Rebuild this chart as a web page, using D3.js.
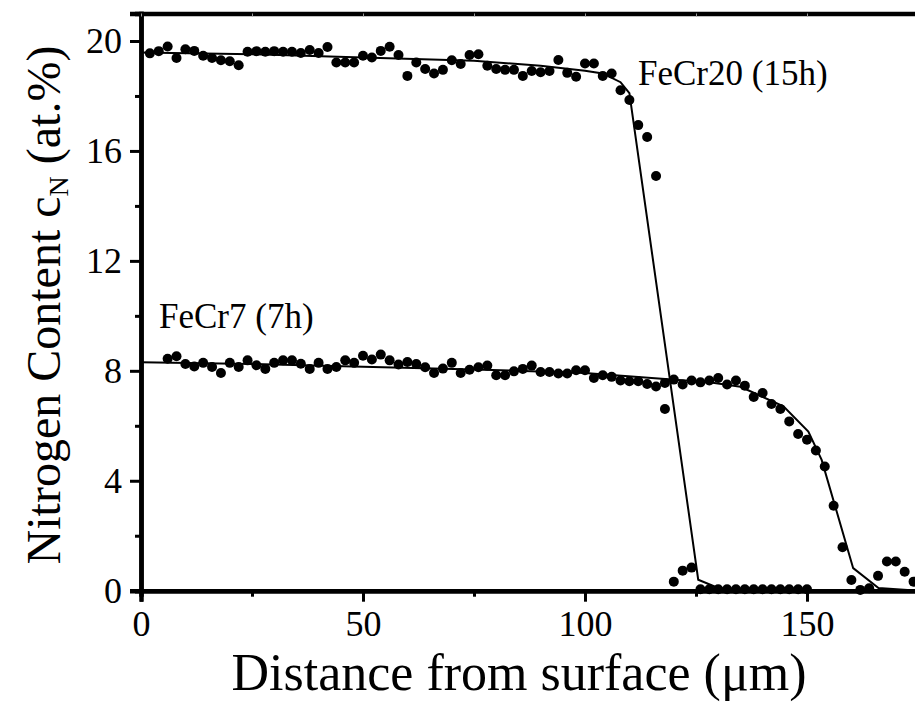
<!DOCTYPE html>
<html>
<head>
<meta charset="utf-8">
<script src="https://cdn.jsdelivr.net/npm/d3@7"></script>
<style>
  body { margin: 0; background: #fff; }
  text { font-family: "Liberation Serif", "Times New Roman", serif; fill: #000; }
</style>
</head>
<body>
<script>
// FeCr20 (15h) measured points
var fecr20X = [2,4,6,8,10,12,14,16,18,20,22,24,26,28,30,32,34,36,38,40,42,44,46,48,50,52,54,56,58,60,
  62,64,66,68,70,72,74,76,78,80,82,84,86,88,90,92,94,96,98,100,102,104,106,108,110,112,114,116,118,120,
  122,124,126,128,130,132,134,136,138,140,142,144,146,148,150];
var fecr20Y = [19.55,19.63,19.80,19.38,19.70,19.64,19.46,19.38,19.30,19.26,19.12,19.61,19.63,19.61,19.63,
  19.61,19.61,19.56,19.67,19.56,19.78,19.22,19.22,19.22,19.46,19.40,19.64,19.79,19.49,18.73,
  19.22,18.98,18.82,18.95,19.30,19.16,19.49,19.52,19.10,18.98,18.95,18.95,18.73,18.91,18.86,
  18.91,19.31,18.84,18.70,19.18,19.18,18.73,18.82,18.21,17.85,16.94,16.51,15.09,6.61,0.33,
  0.73,0.84,0.05,0.05,0.05,0.05,0.05,0.05,0.05,0.05,0.05,0.05,0.05,0.05,0.05];

// FeCr7 (7h) measured points
var fecr7X = [6,8,10,12,14,16,18,20,22,24,26,28,30,32,34,36,38,40,42,44,46,48,50,52,54,56,58,60,
  62,64,66,68,70,72,74,76,78,80,82,84,86,88,90,92,94,96,98,100,102,104,106,108,110,112,114,116,118,120,
  122,124,126,128,130,132,134,136,138,140,142,144,146,148,150,152,154,156,158,160,162,164,166,168,170,172,174];
var fecr7Y = [8.44,8.53,8.25,8.16,8.29,8.14,7.92,8.29,8.14,8.38,8.20,8.07,8.29,8.38,8.38,8.26,8.07,8.29,8.07,
  8.14,8.38,8.29,8.55,8.41,8.59,8.38,8.23,8.32,8.25,8.13,7.92,8.08,8.29,7.92,8.04,8.13,8.19,7.84,7.84,
  7.98,8.07,8.19,7.96,7.96,7.90,7.90,8.02,8.02,7.74,7.84,7.78,7.65,7.62,7.62,7.52,7.43,7.56,7.68,
  7.50,7.65,7.58,7.65,7.74,7.50,7.65,7.46,7.05,7.19,6.79,6.61,6.16,5.70,5.49,5.10,4.52,3.09,1.58,0.39,
  0.03,0.09,0.54,1.06,1.06,0.69,0.33];

// fitted curves
var fit20X = [0, 25, 50, 75, 90, 100, 104, 108, 110, 125.5, 130, 140, 150];
var fit20Y = [19.58, 19.52, 19.4, 19.28, 19.1, 18.92, 18.82, 18.5, 18.1, 0.4, 0.1, 0.02, 0];
var fit7X = [0, 25, 50, 75, 100, 115, 128, 135, 144.7, 150.3, 153.3, 160.4, 166.1, 175];
var fit7Y = [8.31, 8.25, 8.15, 8.05, 7.92, 7.74, 7.58, 7.42, 6.71, 5.79, 4.76, 0.82, 0.1, 0];

var xMajor = [0, 50, 100, 150];
var xMinor = [25, 75, 125, 175];
var yMajor = [0, 4, 8, 12, 16, 20];
var yMinor = [2, 6, 10, 14, 18];

var width = 915, height = 708;
var plotLeft = 141, plotRight = 918, plotTop = 13.5, plotBottom = 590.7;

var svg = d3.select("body").append("svg")
    .attr("width", width)
    .attr("height", height);

var x = d3.scaleLinear().domain([0, 175]).range([plotLeft, plotRight]);
var y = d3.scaleLinear().domain([0, 21]).range([plotBottom, plotTop]);

function zip(a, b) { return a.map(function(v, i) { return [v, b[i]]; }); }

var line = d3.line()
    .x(function(d) { return x(d[0]); })
    .y(function(d) { return y(d[1]); });

// fit lines
svg.append("path").datum(zip(fit20X, fit20Y))
    .attr("d", line).attr("fill", "none").attr("stroke", "#000").attr("stroke-width", 2);
svg.append("path").datum(zip(fit7X, fit7Y))
    .attr("d", line).attr("fill", "none").attr("stroke", "#000").attr("stroke-width", 2);

// points
[zip(fecr20X, fecr20Y), zip(fecr7X, fecr7Y)].forEach(function(pts) {
  svg.append("g").selectAll("circle")
    .data(pts)
    .enter().append("circle")
      .attr("cx", function(d) { return x(d[0]); })
      .attr("cy", function(d) { return y(d[1]); })
      .attr("r", 5)
      .attr("fill", "#000");
});

// axes
var xAxis = svg.append("g").attr("transform", "translate(0," + plotBottom + ")")
    .call(d3.axisBottom(x).tickValues(xMajor).tickSize(11).tickPadding(9).tickFormat(d3.format("d")));
var xAxisMinor = svg.append("g").attr("transform", "translate(0," + plotBottom + ")")
    .call(d3.axisBottom(x).tickValues(xMinor).tickSize(6).tickFormat(""));
var yAxis = svg.append("g").attr("transform", "translate(" + plotLeft + ",0)")
    .call(d3.axisLeft(y).tickValues(yMajor).tickSize(11).tickPadding(8).tickFormat(d3.format("d")));
var yAxisMinor = svg.append("g").attr("transform", "translate(" + plotLeft + ",0)")
    .call(d3.axisLeft(y).tickValues(yMinor).tickSize(6).tickFormat(""));
var xTop = svg.append("g").attr("transform", "translate(0," + plotTop + ")")
    .call(d3.axisBottom(x).tickValues(xMajor.concat(xMinor)).tickSize(3).tickFormat(""));

[xAxis, xAxisMinor, yAxis, yAxisMinor].forEach(function(g) {
  g.select(".domain").attr("stroke-width", 4.5);
  g.selectAll(".tick line").attr("stroke-width", 3);
  g.selectAll(".tick text").style("font-size", "36px");
});
xTop.select(".domain").attr("stroke-width", 4.5);
xTop.selectAll(".tick line").attr("stroke", "#999").attr("stroke-width", 1);

// labels
svg.append("text").attr("x", 638).attr("y", 85).style("font-size", "35px").text("FeCr20 (15h)");
svg.append("text").attr("x", 159).attr("y", 328).style("font-size", "35px").text("FeCr7 (7h)");

svg.append("text")
    .attr("x", 519).attr("y", 690)
    .attr("text-anchor", "middle")
    .style("font-size", "52px")
    .text("Distance from surface (\u03bcm)");

var yt = svg.append("text")
    .attr("transform", "translate(60,305) rotate(-90)")
    .attr("text-anchor", "middle")
    .style("font-size", "48px");
yt.append("tspan").text("Nitrogen Content c");
yt.append("tspan").attr("dy", 8).style("font-size", "28px").text("N");
yt.append("tspan").attr("dy", -8).text("  (at.%)");
</script>
</body>
</html>
